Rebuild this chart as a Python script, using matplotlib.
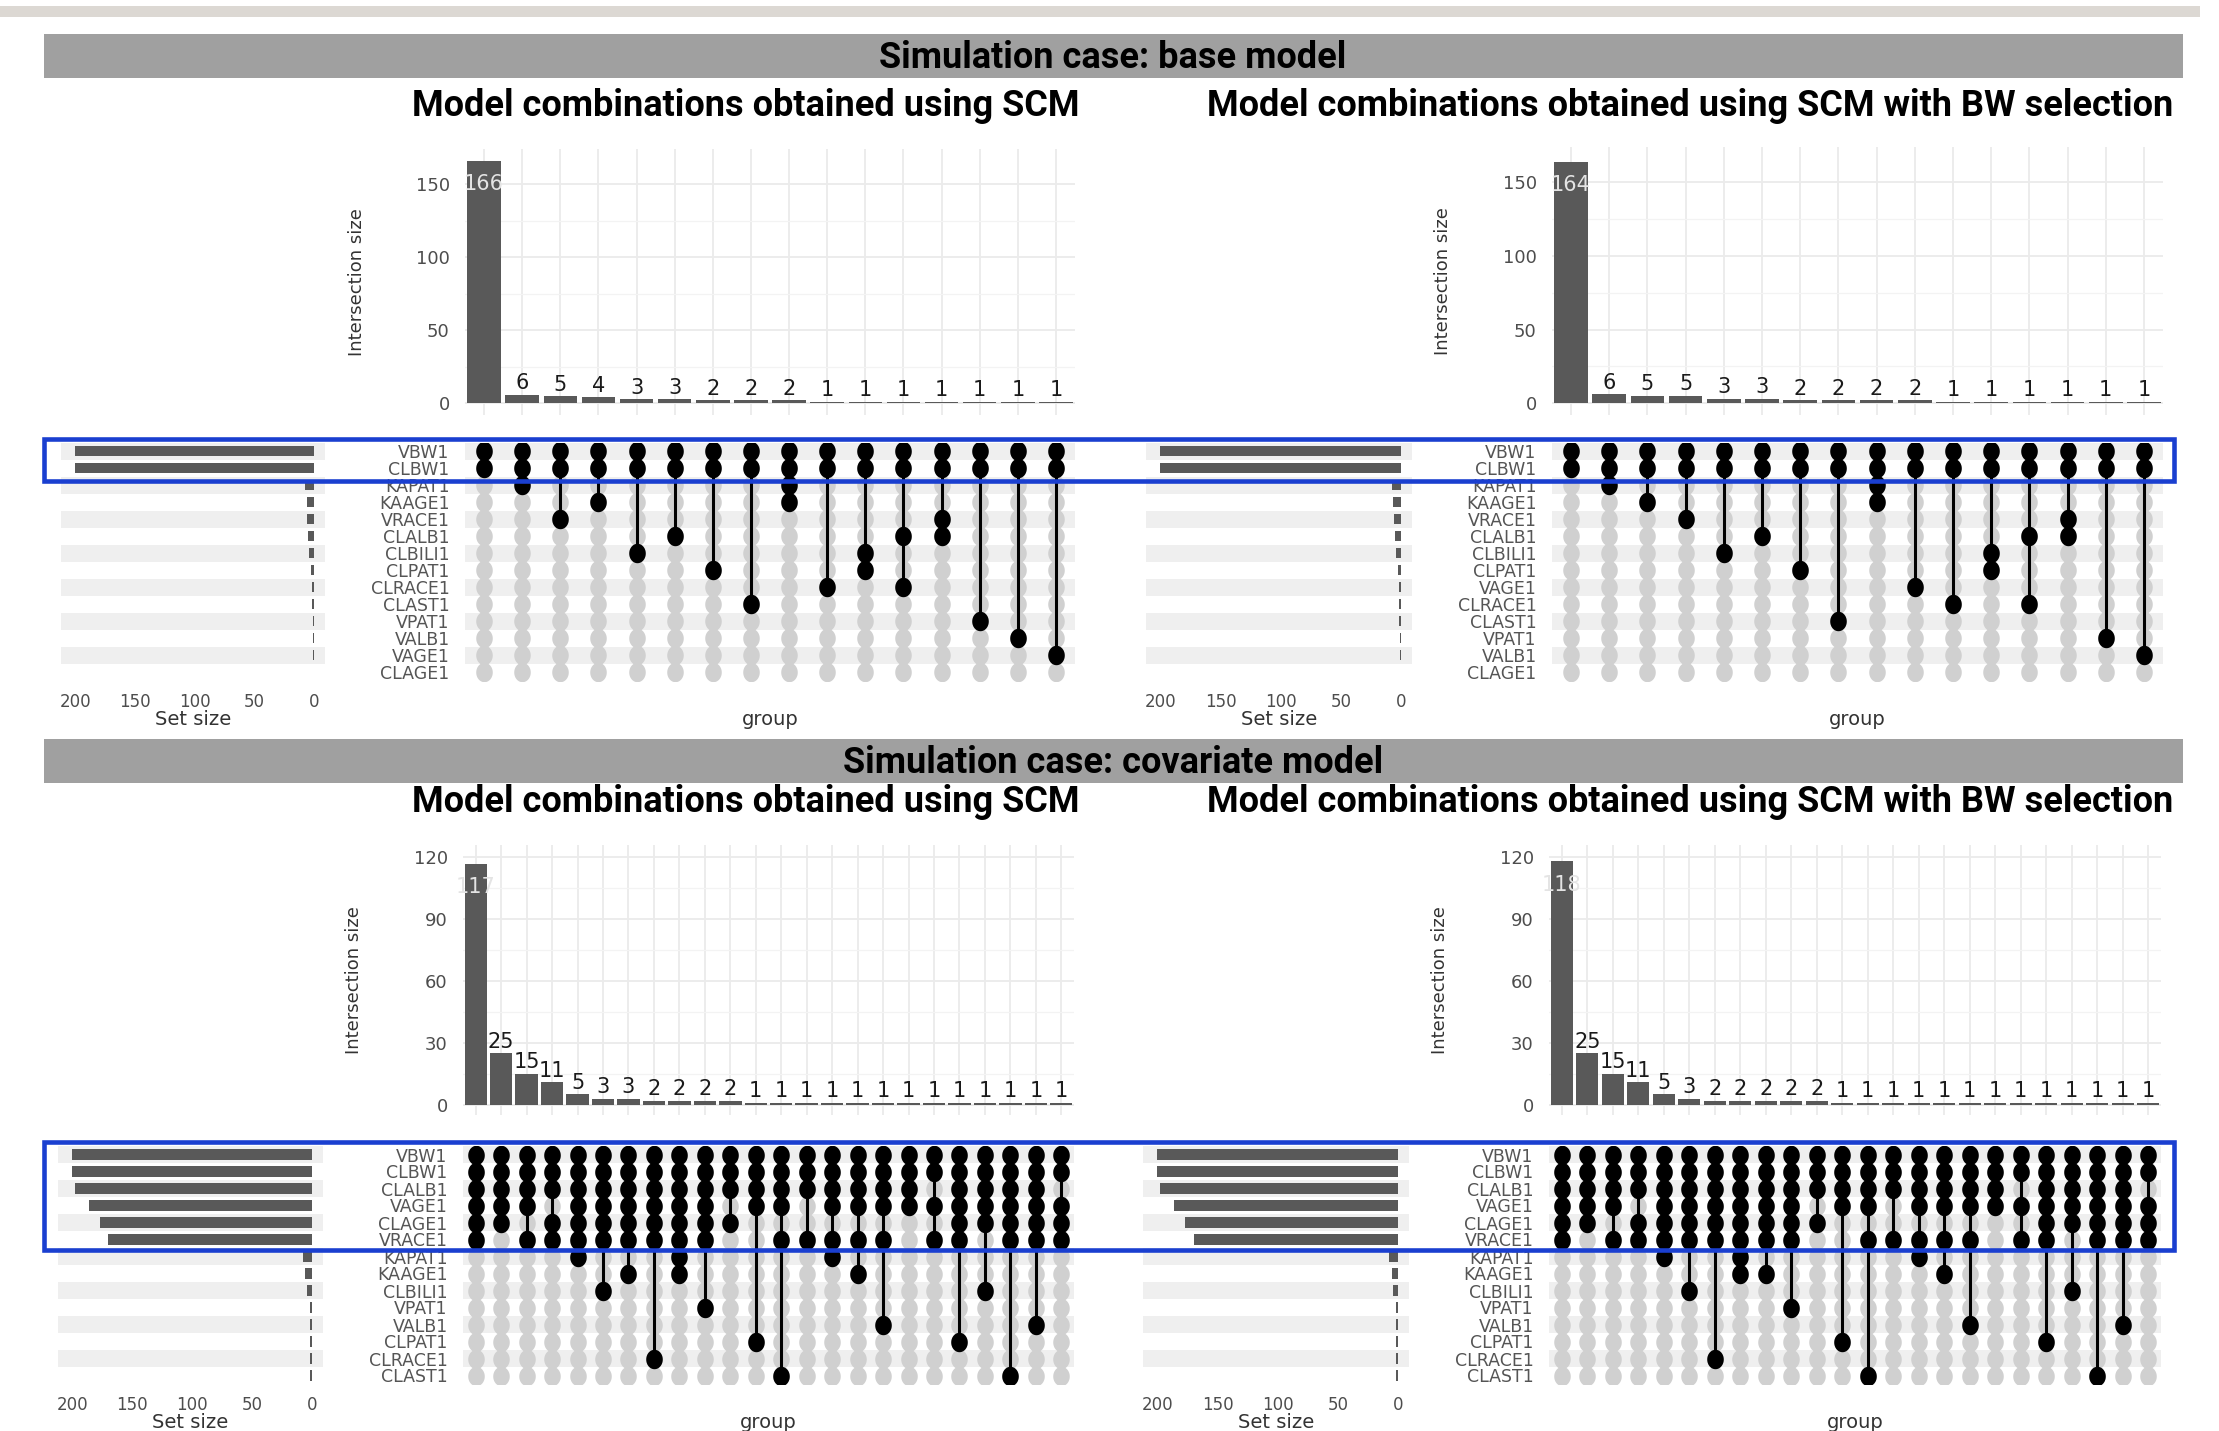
import numpy as np
import matplotlib.pyplot as plt
from matplotlib.path import Path
from matplotlib.patches import Rectangle

W, H = 2219, 1431
TITLE_FONT = ['Roboto', 'DejaVu Sans']

# ---------------- data ----------------
top_sets = ["VBW1", "CLBW1", "KAPAT1", "KAAGE1", "VRACE1", "CLALB1", "CLBILI1",
            "CLPAT1", "CLRACE1", "CLAST1", "VPAT1", "VALB1", "VAGE1", "CLAGE1"]
tl_counts = [166, 6, 5, 4, 3, 3, 2, 2, 2, 1, 1, 1, 1, 1, 1, 1]
tl_extra = [[], ["KAPAT1"], ["VRACE1"], ["KAAGE1"], ["CLBILI1"], ["CLALB1"],
            ["CLPAT1"], ["CLAST1"], ["KAPAT1", "KAAGE1"], ["CLRACE1"],
            ["CLBILI1", "CLPAT1"], ["CLALB1", "CLRACE1"], ["VRACE1", "CLALB1"],
            ["VPAT1"], ["VALB1"], ["VAGE1"]]

tr_sets = ["VBW1", "CLBW1", "KAPAT1", "KAAGE1", "VRACE1", "CLALB1", "CLBILI1",
           "CLPAT1", "VAGE1", "CLRACE1", "CLAST1", "VPAT1", "VALB1", "CLAGE1"]
tr_counts = [164, 6, 5, 5, 3, 3, 2, 2, 2, 2, 1, 1, 1, 1, 1, 1]
tr_extra = [[], ["KAPAT1"], ["KAAGE1"], ["VRACE1"], ["CLBILI1"], ["CLALB1"],
            ["CLPAT1"], ["CLAST1"], ["KAPAT1", "KAAGE1"], ["VAGE1"], ["CLRACE1"],
            ["CLBILI1", "CLPAT1"], ["CLALB1", "CLRACE1"], ["VRACE1", "CLALB1"],
            ["VPAT1"], ["VALB1"]]
top_base = ["VBW1", "CLBW1"]

bot_sets = ["VBW1", "CLBW1", "CLALB1", "VAGE1", "CLAGE1", "VRACE1", "KAPAT1",
            "KAAGE1", "CLBILI1", "VPAT1", "VALB1", "CLPAT1", "CLRACE1", "CLAST1"]
core = ["VBW1", "CLBW1", "CLALB1", "VAGE1", "CLAGE1", "VRACE1"]

bl_counts = [117, 25, 15, 11, 5, 3, 3, 2, 2, 2, 2] + [1] * 13
bl_combos = [
    core,
    ["VBW1", "CLBW1", "CLALB1", "VAGE1", "CLAGE1"],
    ["VBW1", "CLBW1", "CLALB1", "VAGE1", "VRACE1"],
    ["VBW1", "CLBW1", "CLALB1", "CLAGE1", "VRACE1"],
    core + ["KAPAT1"],
    core + ["CLBILI1"],
    core + ["KAAGE1"],
    core + ["CLRACE1"],
    core + ["KAPAT1", "KAAGE1"],
    core + ["VPAT1"],
    ["VBW1", "CLBW1", "CLALB1", "CLAGE1"],
    ["VBW1", "CLBW1", "CLALB1", "VAGE1", "CLPAT1"],
    ["VBW1", "CLBW1", "CLALB1", "VAGE1", "VRACE1", "CLAST1"],
    ["VBW1", "CLBW1", "CLALB1", "VRACE1"],
    ["VBW1", "CLBW1", "CLALB1", "VAGE1", "VRACE1", "KAPAT1"],
    ["VBW1", "CLBW1", "CLALB1", "VAGE1", "VRACE1", "KAAGE1"],
    ["VBW1", "CLBW1", "CLALB1", "VAGE1", "VRACE1", "VALB1"],
    ["VBW1", "CLBW1", "CLALB1", "VAGE1"],
    ["VBW1", "CLBW1", "VAGE1", "VRACE1"],
    core + ["CLPAT1"],
    ["VBW1", "CLBW1", "CLALB1", "VAGE1", "CLAGE1", "CLBILI1"],
    core + ["CLAST1"],
    core + ["VALB1"],
    ["VBW1", "CLBW1", "VAGE1", "CLAGE1", "VRACE1"],
]

br_counts = [118, 25, 15, 11, 5, 3, 2, 2, 2, 2, 2] + [1] * 13
br_combos = bl_combos[:5] + [
    core + ["CLBILI1"],
    core + ["CLRACE1"],
    core + ["KAPAT1", "KAAGE1"],
    core + ["KAAGE1"],
    core + ["VPAT1"],
] + bl_combos[10:]

# ---------------- drawing ----------------
fig = plt.figure(figsize=(W / 100, H / 100), dpi=100)

t = np.linspace(0, 2 * np.pi, 60)
DOT = Path(np.column_stack([0.85 * np.cos(t), np.sin(t)]))


def frac(x0, y0, x1, y1):
    return [x0 / W, 1 - y1 / H, (x1 - x0) / W, (y1 - y0) / H]


def upset(combos, counts, sets, cx, bars_y, mat_y, ss_x, ylim, yticks, ylab_x):
    n = len(counts)
    nr = len(sets)
    row = {s: i for i, s in enumerate(sets)}
    sizes = [sum(c for m, c in zip(combos, counts) if s in m) for s in sets]
    x = np.arange(n)

    # intersection bars
    axb = fig.add_axes(frac(cx[0], bars_y[0], cx[1], bars_y[1]))
    axb.bar(x, counts, width=0.88, color='#595959', zorder=3)
    axb.set_xlim(-0.5, n - 0.5)
    axb.set_ylim(*ylim)
    axb.set_xticks(x)
    axb.set_xticklabels([])
    axb.set_yticks(yticks)
    step = yticks[1] - yticks[0]
    axb.set_yticks(np.arange(yticks[0] + step / 2, ylim[1], step), minor=True)
    axb.grid(True, which='major', color='#ebebeb', lw=1.3, zorder=0)
    axb.grid(True, which='minor', axis='y', color='#f3f3f3', lw=0.9, zorder=0)
    axb.tick_params(length=0, pad=11, labelsize=13, labelcolor='#4d4d4d', which='both')
    for s in axb.spines.values():
        s.set_visible(False)
    imax = int(np.argmax(counts))
    for i, c in enumerate(counts):
        if i == imax:
            axb.text(i, c - 0.09 * ylim[1], str(c), ha='center', va='center',
                     color='#e4e4e4', fontsize=15, zorder=4)
        else:
            axb.annotate(str(c), (i, c), xytext=(0, 1), textcoords='offset points',
                         ha='center', va='bottom', color='#1a1a1a', fontsize=15, zorder=4)
    fig.text(ylab_x / W, 1 - (bars_y[0] + bars_y[1]) / 2 / H, 'Intersection size',
             rotation=90, ha='center', va='center', fontsize=13, color='#333333')

    # matrix
    axm = fig.add_axes(frac(cx[0], mat_y[0], cx[1], mat_y[1]))
    axm.set_xlim(-0.5, n - 0.5)
    axm.set_ylim(nr - 0.5, -0.5)
    for r in range(0, nr, 2):
        axm.axhspan(r - 0.5, r + 0.5, color='#efefef', lw=0, zorder=0)
    for i, m in enumerate(combos):
        axm.plot([i] * nr, range(nr), ls='none', marker=DOT, ms=14,
                 color='#d0d0d0', mew=0, zorder=2)
        rr = sorted(row[s] for s in m)
        axm.plot([i, i], [rr[0], rr[-1]], color='black', lw=2.2, zorder=3)
        axm.plot([i] * len(rr), rr, ls='none', marker=DOT, ms=14,
                 color='black', mew=0, zorder=4)
    axm.set_xticks([])
    axm.set_yticks(range(nr))
    axm.set_yticklabels(sets)
    axm.tick_params(length=0, pad=11, labelsize=12.5, labelcolor='#555555')
    for s in axm.spines.values():
        s.set_visible(False)
    fig.text((cx[0] + cx[1]) / 2 / W, 1 - (mat_y[1] + 39) / H, 'group',
             ha='center', va='center', fontsize=14, color='#333333')

    # set sizes
    axs = fig.add_axes(frac(ss_x[0], mat_y[0], ss_x[1], mat_y[1]))
    for r in range(0, nr, 2):
        axs.axhspan(r - 0.5, r + 0.5, color='#efefef', lw=0, zorder=0)
    axs.barh(range(nr), sizes, height=0.6, color='#595959', zorder=3)
    axs.set_xlim(212, -9)
    axs.set_ylim(nr - 0.5, -0.5)
    axs.set_xticks([200, 150, 100, 50, 0])
    axs.set_yticks([])
    axs.tick_params(length=0, pad=9, labelsize=12, labelcolor='#4d4d4d')
    for s in axs.spines.values():
        s.set_visible(False)
    fig.text((ss_x[0] + ss_x[1]) / 2 / W, 1 - (mat_y[1] + 39) / H, 'Set size',
             ha='center', va='center', fontsize=14, color='#333333')


def header(y0, y1, label):
    fig.add_artist(Rectangle((44 / W, 1 - y1 / H), (2183 - 44) / W, (y1 - y0) / H,
                             transform=fig.transFigure, color='#a0a0a0', lw=0, zorder=1))
    fig.text(1113 / W, 1 - ((y0 + y1) / 2 + 2) / H, label, ha='center', va='center',
             fontsize=26, fontweight='bold', family=TITLE_FONT, color='black', zorder=2)


def subtitles(y):
    fig.text(746 / W, 1 - y / H, 'Model combinations obtained using SCM',
             ha='center', va='center', fontsize=26, fontweight='bold', family=TITLE_FONT)
    fig.text(1690 / W, 1 - y / H, 'Model combinations obtained using SCM with BW selection',
             ha='center', va='center', fontsize=26, fontweight='bold', family=TITLE_FONT)


fig.add_artist(Rectangle((0, 1 - 17 / H), 2200 / W, 11 / H, transform=fig.transFigure,
                         color='#dcd8d3', lw=0, zorder=1))
header(34, 78, 'Simulation case: base model')
subtitles(106)
header(739, 783, 'Simulation case: covariate model')
subtitles(802)

upset([top_base + e for e in tl_extra], tl_counts, top_sets, (465, 1075), (149, 415),
      (442.5, 680.5), (61, 325), (-8, 174), [0, 50, 100, 150], 357)
upset([top_base + e for e in tr_extra], tr_counts, tr_sets, (1552, 2163), (147, 415),
      (442.5, 680.5), (1146, 1412), (-8, 174), [0, 50, 100, 150], 1443)
upset(bl_combos, bl_counts, bot_sets, (463, 1074), (845, 1115),
      (1146, 1384), (58, 323), (-5, 126), [0, 30, 60, 90, 120], 354)
upset(br_combos, br_counts, bot_sets, (1549, 2161), (845, 1115),
      (1146, 1384), (1143, 1409), (-5, 126), [0, 30, 60, 90, 120], 1440)

for y0, y1 in [(439, 481), (1142, 1250)]:
    fig.add_artist(Rectangle((44 / W, 1 - y1 / H), (2174 - 44) / W, (y1 - y0) / H,
                             transform=fig.transFigure, fill=False, edgecolor='#1a3fd0',
                             lw=3.3, zorder=10))

fig.savefig('out.png', dpi=100)
